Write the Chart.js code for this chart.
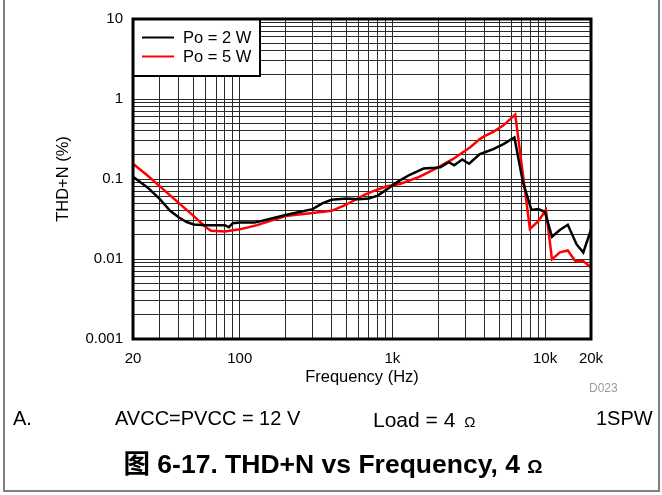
<!DOCTYPE html>
<html>
<head>
<meta charset="utf-8">
<script src="https://cdn.jsdelivr.net/npm/chart.js@4.4.0/dist/chart.umd.min.js"></script>
<style>
  body { margin: 0; background: #fff; }
  #wrap { position: relative; width: 662px; height: 495px; overflow: hidden; background: #fff;
          font-family: "Liberation Sans", Arial, Helvetica, "Noto Sans CJK SC", sans-serif; }
  #frame { position: absolute; left: 3px; top: -10px; width: 657px; height: 502px;
           border: 2px solid #808080; box-sizing: border-box; }
  #c { position: absolute; left: 0; top: 0; }
  .t { position: absolute; white-space: nowrap; color: #000; font-size: 20px; line-height: 24px; }
</style>
</head>
<body>
<div id="wrap">
  <canvas id="c" width="662" height="495"></canvas>
  <div id="frame"></div>
  <div class="t" style="left:589px;top:381px;font-size:12px;line-height:14px;color:#9a9a9a;">D023</div>
  <div class="t" style="left:13px;top:406px;">A.</div>
  <div class="t" style="left:115px;top:406px;">AVCC=PVCC = 12 V</div>
  <div class="t" style="left:373px;top:408px;font-size:21px;">Load = 4 <span style="font-size:15px;margin-left:3px;">Ω</span></div>
  <div class="t" style="left:596px;top:406px;">1SPW</div>
  <div class="t" style="left:0;width:666px;text-align:center;top:449px;font-size:26.5px;line-height:31px;font-weight:bold;">图 6-17. THD+N vs Frequency, 4 <span style="font-size:19px;">Ω</span></div>
</div>
<script>
// Po = 2 W
var freq2W = [20, 25, 30, 35, 40, 45, 50, 60, 70, 80, 85, 90, 100, 125, 150, 200, 250, 300, 350, 400,
  500, 600, 700, 800, 900, 1000, 1100, 1300, 1600, 1900, 2060, 2340, 2540, 2870, 3180, 3740, 4040,
  4580, 5340, 6300, 7160, 8140, 9000, 9960, 11100, 12500, 14100, 16100, 17800, 20000];
var thd2W = [0.107, 0.078, 0.056, 0.04, 0.033, 0.029, 0.027, 0.0265, 0.0265, 0.0265, 0.025, 0.028, 0.0285,
  0.0285, 0.031, 0.0355, 0.039, 0.042, 0.05, 0.055,
  0.057, 0.056, 0.057, 0.062, 0.072, 0.083, 0.094, 0.113, 0.135, 0.138, 0.14, 0.162, 0.148, 0.175, 0.155, 0.205, 0.216,
  0.236, 0.273, 0.33, 0.092, 0.041, 0.042, 0.039, 0.019, 0.023, 0.0268, 0.0152, 0.0121, 0.0233];

// Po = 5 W
var freq5W = [20, 25, 30, 40, 50, 60, 65, 80, 100, 110, 130, 200, 300, 400, 490, 650, 750, 920,
  1120, 1500, 1950, 2500, 3220, 3740, 4040, 4580, 5340, 6380, 7960, 9000, 10140, 11100, 12500,
  14100, 15800, 17800, 20000];
var thd5W = [0.155, 0.11, 0.081, 0.05, 0.0344, 0.025, 0.0225, 0.022, 0.0235, 0.0245, 0.0265, 0.0345, 0.0375,
  0.040, 0.047, 0.063, 0.0705, 0.081,
  0.0866, 0.106, 0.137, 0.178, 0.248, 0.315, 0.346, 0.388, 0.468, 0.64, 0.0237, 0.0294, 0.041, 0.0099, 0.0121,
  0.0128, 0.0094, 0.0094, 0.0078];

var seriesLabels = ["Po = 2 W", "Po = 5 W"];
var seriesColors = ["#000000", "#ff0000"];

var xTickValues = [20, 100, 1000, 10000, 20000];
var xTickText = ["20", "100", "1k", "10k", "20k"];
var yTickValues = [0.001, 0.01, 0.1, 1, 10];
var yTickText = ["0.001", "0.01", "0.1", "1", "10"];

var FONT = '"Liberation Sans", Arial, Helvetica, sans-serif';
Chart.defaults.font.family = FONT;
Chart.defaults.color = "#000";

// grid positions 1..9 x 10^n between min and max
function logGrid(min, max) {
  var out = [];
  for (var d = Math.pow(10, Math.floor(Math.log10(min))); d <= max; d *= 10) {
    for (var m = 1; m < 10; m++) {
      var v = +(m * d).toPrecision(6);
      if (v >= min * 0.999999 && v <= max * 1.000001) out.push(v);
    }
  }
  return out;
}

function labelFor(value, vals, texts) {
  for (var i = 0; i < vals.length; i++) {
    if (Math.abs(Math.log10(value) - Math.log10(vals[i])) < 1e-6) return texts[i];
  }
  return "";
}

function toPoints(xs, ys) {
  return xs.map(function (x, i) { return { x: x, y: ys[i] }; });
}

var frameLegend = {
  id: "frameLegend",
  afterDatasetsDraw: function (chart) {
    var a = chart.chartArea;
    var ctx = chart.ctx;
    ctx.save();
    // legend box in upper left corner
    var lx = a.left, ly = a.top, lw = 127, lh = 57;
    ctx.fillStyle = "#fff";
    ctx.fillRect(lx, ly, lw, lh);
    ctx.lineWidth = 2;
    ctx.strokeStyle = "#000";
    ctx.strokeRect(lx, ly, lw, lh);
    chart.data.datasets.forEach(function (ds, i) {
      var y = ly + 18.5 + i * 19;
      ctx.beginPath();
      ctx.moveTo(lx + 9, y);
      ctx.lineTo(lx + 41, y);
      ctx.strokeStyle = ds.borderColor;
      ctx.lineWidth = 2;
      ctx.stroke();
      ctx.fillStyle = "#000";
      ctx.font = "16.5px " + FONT;
      ctx.textBaseline = "middle";
      ctx.fillText(ds.label, lx + 50, y + 1);
    });
    // plot frame
    ctx.lineWidth = 3;
    ctx.strokeStyle = "#000";
    ctx.strokeRect(a.left, a.top, a.right - a.left, a.bottom - a.top);
    ctx.restore();
  }
};

var ctx = document.getElementById("c").getContext("2d");
var myChart = new Chart(ctx, {
  type: "line",
  data: {
    datasets: [
      {
        label: seriesLabels[0],
        data: toPoints(freq2W, thd2W),
        borderColor: seriesColors[0],
        borderWidth: 2.5,
        pointRadius: 0,
        tension: 0,
        fill: false,
      },
      {
        label: seriesLabels[1],
        data: toPoints(freq5W, thd5W),
        borderColor: seriesColors[1],
        borderWidth: 2.5,
        pointRadius: 0,
        tension: 0,
        fill: false,
      },
    ],
  },
  options: {
    responsive: false,
    animation: false,
    devicePixelRatio: 1,
    layout: { padding: { left: 0, top: 15, right: 71, bottom: 0 } },
    plugins: { legend: { display: false }, tooltip: { enabled: false } },
    scales: {
      x: {
        type: "logarithmic",
        position: "bottom",
        min: 20,
        max: 20000,
        afterBuildTicks: function (scale) {
          scale.ticks = logGrid(20, 20000).map(function (v) { return { value: v }; });
        },
        afterFit: function (scale) { scale.height = 156; },
        grid: { color: "#2a2a2a", lineWidth: 1, drawTicks: false },
        border: { display: false },
        ticks: {
          autoSkip: false,
          maxRotation: 0,
          minRotation: 0,
          padding: 11,
          font: { size: 15 },
          color: "#000",
          callback: function (value) { return labelFor(value, xTickValues, xTickText); },
        },
        title: {
          display: true,
          text: "Frequency (Hz)",
          font: { size: 16.5 },
          color: "#000",
          padding: { top: 0, bottom: 108 },
        },
      },
      y: {
        type: "logarithmic",
        position: "left",
        min: 0.001,
        max: 10,
        afterBuildTicks: function (scale) {
          scale.ticks = logGrid(0.001, 10).map(function (v) { return { value: v }; });
        },
        afterFit: function (scale) { scale.width = 133; },
        grid: { color: "#2a2a2a", lineWidth: 1, drawTicks: false },
        border: { display: false },
        ticks: {
          autoSkip: false,
          padding: 10,
          font: { size: 15 },
          color: "#000",
          callback: function (value) { return labelFor(value, yTickValues, yTickText); },
        },
        title: {
          display: true,
          text: "THD+N (%)",
          font: { size: 16.5 },
          color: "#000",
          padding: { top: 54, bottom: 0 },
        },
      },
    },
  },
  plugins: [frameLegend],
});
</script>
</body>
</html>
